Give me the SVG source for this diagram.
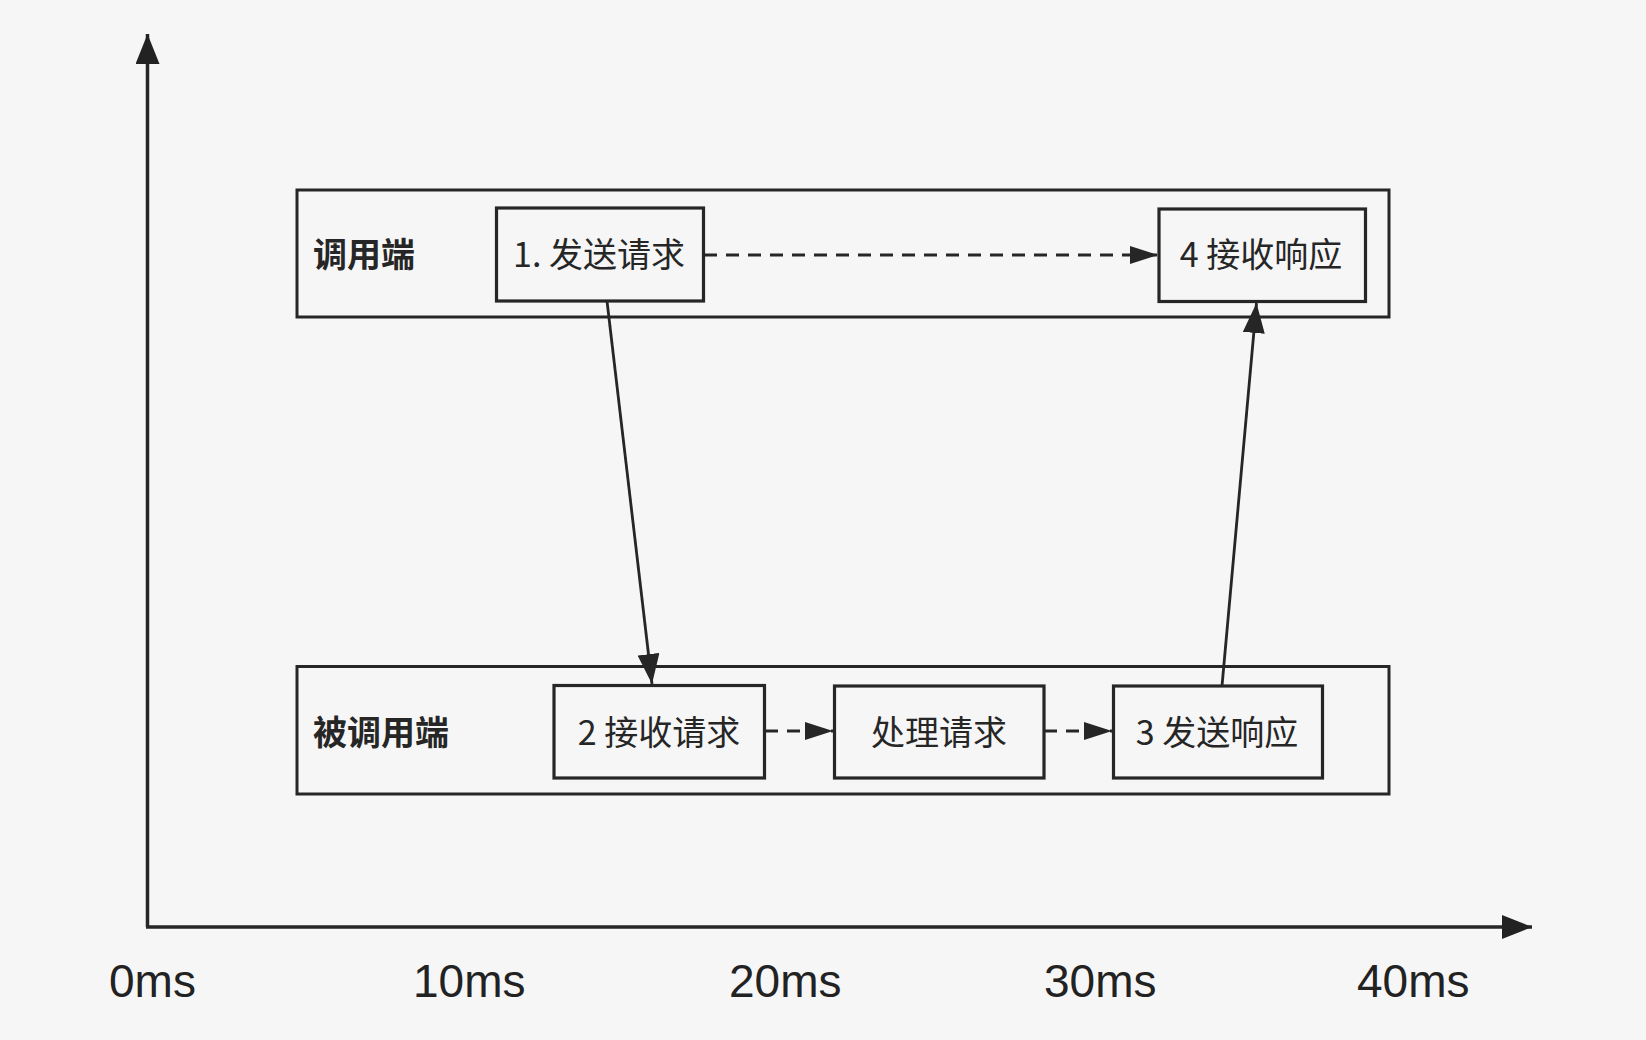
<svg xmlns="http://www.w3.org/2000/svg" width="1646" height="1040" viewBox="0 0 1646 1040">
<defs>
<style>
.bg{fill:#f6f6f6}
.outer{fill:none;stroke:#262626;stroke-width:3}
.box{fill:none;stroke:#262626;stroke-width:3.2}
.lbl{font-family:"Noto Sans CJK SC","Noto Sans",sans-serif;font-size:34px;fill:#262626}
.side{font-family:"Noto Sans CJK SC","Noto Sans",sans-serif;font-size:34px;font-weight:bold;fill:#262626}
.tick{font-family:"Liberation Sans",Arial,sans-serif;font-size:46px;fill:#222}
.axis{fill:none;stroke:#262626;stroke-width:3.5}
.solid{fill:none;stroke:#262626;stroke-width:2.8}
.dash{fill:none;stroke:#262626;stroke-width:2.8;stroke-dasharray:13 9}
</style>
<marker id="ah" viewBox="0 0 30 22" refX="30" refY="11" markerWidth="30" markerHeight="22" markerUnits="userSpaceOnUse" orient="auto">
<path d="M0,0 L30,11 L0,22 Z" fill="#262626"/>
</marker>
<marker id="ahs" viewBox="0 0 28 18" refX="28" refY="9" markerWidth="28" markerHeight="18" markerUnits="userSpaceOnUse" orient="auto">
<path d="M0,0 L28,9 L0,18 Z" fill="#262626"/>
</marker>
<marker id="axh" viewBox="0 0 30 24" refX="30" refY="12" markerWidth="30" markerHeight="24" markerUnits="userSpaceOnUse" orient="auto">
<path d="M0,0 L30,12 L0,24 Z" fill="#222"/>
</marker>
</defs>
<rect class="bg" x="0" y="0" width="1646" height="1040"/>

<g id="axes">
<path class="axis" d="M147.5,927 L147.5,34" marker-end="url(#axh)"/>
<path class="axis" d="M146,927 L1532,927" marker-end="url(#axh)"/>
<text class="tick" x="109" y="997">0ms</text>
<text class="tick" x="413" y="997">10ms</text>
<text class="tick" x="729" y="997">20ms</text>
<text class="tick" x="1044" y="997">30ms</text>
<text class="tick" x="1357" y="997">40ms</text>
</g>

<g id="caller">
<rect class="outer" x="297" y="190" width="1092" height="127"/>
<text class="side" x="313" y="267">调用端</text>
</g>
<g id="callee">
<rect class="outer" x="297" y="666.5" width="1092" height="127.5"/>
<text class="side" x="313" y="745">被调用端</text>
</g>

<g id="n1">
<rect class="box" x="496.5" y="208" width="207" height="93"/>
<text class="lbl" x="599" y="267" text-anchor="middle">1. 发送请求</text>
</g>
<g id="n4">
<rect class="box" x="1159" y="209" width="206.5" height="92.5"/>
<text class="lbl" x="1261" y="267" text-anchor="middle">4 接收响应</text>
</g>
<g id="n2">
<rect class="box" x="554" y="685.5" width="210.5" height="92.5"/>
<text class="lbl" x="659" y="745" text-anchor="middle">2 接收请求</text>
</g>
<g id="n_proc">
<rect class="box" x="834.5" y="686" width="209.5" height="92"/>
<text class="lbl" x="939" y="745" text-anchor="middle">处理请求</text>
</g>
<g id="n3">
<rect class="box" x="1113.5" y="686" width="209" height="92"/>
<text class="lbl" x="1217" y="745" text-anchor="middle">3 发送响应</text>
</g>

<g id="connectors">
<path class="dash" d="M704,255 L1158,255" marker-end="url(#ahs)"/>
<path class="solid" d="M607,301 L652,684" marker-end="url(#ah)"/>
<path class="dash" d="M765,731 L833,731" marker-end="url(#ahs)"/>
<path class="dash" d="M1044,731 L1112,731" marker-end="url(#ahs)"/>
<path class="solid" d="M1222,686 L1256.5,303" marker-end="url(#ah)"/>
</g>
</svg>
